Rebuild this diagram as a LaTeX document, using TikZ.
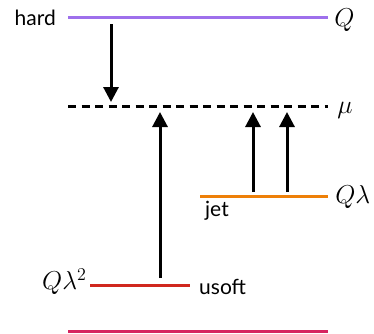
\documentclass[tikz,border=0pt]{standalone}
\usepackage{fontspec}
\setsansfont{Lato}
\usetikzlibrary{arrows.meta}
\definecolor{hardcol}{RGB}{158,112,236}
\definecolor{jetcol}{RGB}{238,128,8}
\definecolor{usoftcol}{RGB}{208,40,30}
\definecolor{basecol}{RGB}{214,36,96}
\begin{document}
\begin{tikzpicture}[x=1pt,y=-1pt,
  level/.style={line width=3pt},
  flow/.style={line width=3pt,-{Triangle[length=15pt,width=15pt]}},
  lbl/.style={font=\sffamily\fontsize{21}{24}\selectfont,inner sep=0pt},
  mlbl/.style={font=\fontsize{17.28}{20}\selectfont,scale=1.5,inner sep=0pt}]
\useasboundingbox (0,0) rectangle (374,333);
% scale levels
\coordinate (hL) at (68,17);   \coordinate (hR) at (328,17);
\coordinate (mL) at (68,106);  \coordinate (mR) at (328,106);
\coordinate (jL) at (200,196); \coordinate (jR) at (328,196);
\coordinate (uL) at (90,285);  \coordinate (uR) at (190,285);
\coordinate (bL) at (68,331);  \coordinate (bR) at (328,331);
\draw[level,hardcol] (hL) -- (hR);
\draw[level,dash pattern=on 8pt off 5.5pt] (mL) -- (mR);
\draw[level,jetcol] (jL) -- (jR);
\draw[level,usoftcol] (uL) -- (uR);
\draw[level,basecol] (bL) -- (bR);
% labels
\node[lbl,anchor=east] (hard) at (56,18) {hard};
\node[mlbl,anchor=west] (Q) at (334,20) {$Q$};
\node[mlbl,anchor=west] (mu) at (337,110) {$\mu$};
\node[mlbl,anchor=west] (Ql) at (335,197) {$Q\lambda$};
\node[lbl,anchor=west] (jet) at (205,211) {jet};
\node[mlbl,anchor=east] (Ql2) at (87,282) {$Q\lambda^2$};
\node[lbl,anchor=west] (usoft) at (199,287) {usoft};
% running arrows
\coordinate (a1s) at (111,24);  \coordinate (a1e) at (111,102);
\coordinate (a2s) at (160,278); \coordinate (a2e) at (160,112);
\coordinate (a3s) at (253,192); \coordinate (a3e) at (253,112);
\coordinate (a4s) at (287,192); \coordinate (a4e) at (287,112);
\draw[flow] (a1s) -- (a1e);
\draw[flow] (a2s) -- (a2e);
\draw[flow] (a3s) -- (a3e);
\draw[flow] (a4s) -- (a4e);
\end{tikzpicture}
\end{document}
